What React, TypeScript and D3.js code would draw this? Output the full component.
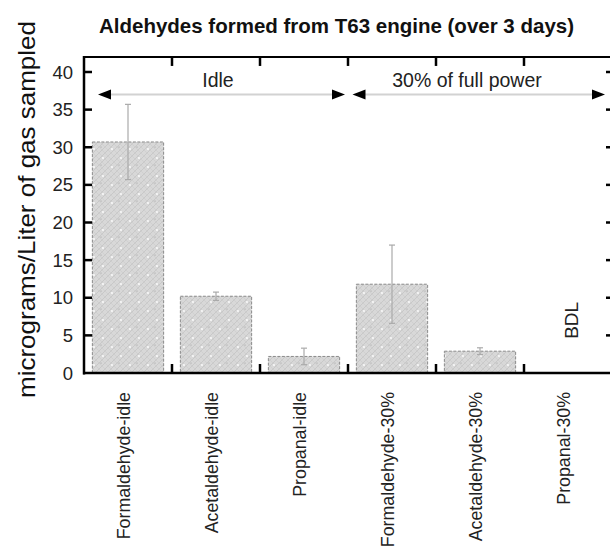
import React from "react";
import * as d3 from "d3";

const categories = [
  "Formaldehyde-idle",
  "Acetaldehyde-idle",
  "Propanal-idle",
  "Formaldehyde-30%",
  "Acetaldehyde-30%",
  "Propanal-30%",
];
const values: (number | null)[] = [30.7, 10.2, 2.2, 11.8, 2.9, null];
const errors: (number | null)[] = [5.0, 0.55, 1.1, 5.2, 0.45, null];
const yTicks = [0, 5, 10, 15, 20, 25, 30, 35, 40];
const groupLabels = ["Idle", "30% of full power"];
const groupStart = [0, 3];
const groupEnd = [2, 5];
const bdlText = "BDL";
const title = "Aldehydes formed from T63 engine (over 3 days)";
const yTitle = "micrograms/Liter of gas sampled";

const W = 610;
const H = 546;
const FONT = "'Liberation Sans', Arial, Helvetica, sans-serif";

export default function App() {
  const x = d3
    .scaleBand<string>()
    .domain(categories)
    .range([84, 612])
    .paddingInner(0.19)
    .paddingOuter(0.095);
  const step = x.step();
  const catLeft = (i: number) => 84 + i * step;
  const y = d3.scaleLinear().domain([0, 40]).range([373, 72]);
  const yTop = y(42);
  const yBot = y(0);
  const xL = 84;
  const xR = 612;

  const boundaries = d3.range(1, categories.length);

  const arrowY = y(37);
  const arrows = [
    { x1: catLeft(groupStart[0]) + 14, x2: catLeft(groupEnd[0] + 1) - 3 },
    { x1: catLeft(groupStart[1]) + 4.5, x2: catLeft(groupEnd[1] + 1) - 7 },
  ];
  const labelX = [218, 467];

  const head = (tipX: number, dir: number) => {
    const L = 13;
    const h = 5;
    return `M${tipX},${arrowY} L${tipX - dir * L},${arrowY - h} L${tipX - dir * L},${arrowY + h} Z`;
  };

  return (
    <svg
      width={W}
      height={H}
      style={{ position: "absolute", left: 0, top: 0, background: "#fff" }}
      fontFamily={FONT}
    >
      <defs>
        <pattern id="hatch" width="6" height="6" patternUnits="userSpaceOnUse">
          <rect width="6" height="6" fill="#d8d8d8" />
          <path d="M0,6 L6,0 M-1,1 L1,-1 M5,7 L7,5" stroke="#c2c2c2" strokeWidth="0.7" />
          <path d="M0,0 L6,6 M-1,5 L1,7 M5,-1 L7,1" stroke="#cbcbcb" strokeWidth="0.6" />
        </pattern>
        <pattern id="dots" width="18" height="18" patternUnits="userSpaceOnUse">
          <rect width="18" height="18" fill="url(#hatch)" />
          <circle cx="4" cy="5" r="0.9" fill="#ffffff" />
          <circle cx="13" cy="14" r="0.9" fill="#ffffff" />
          <circle cx="11" cy="3" r="0.6" fill="#9a9a9a" />
        </pattern>
      </defs>

      {/* title */}
      <text x={336.5} y={33} textAnchor="middle" fontWeight="bold" fontSize={20.5} fill="#111">
        {title}
      </text>

      {/* y title */}
      <text
        transform={`translate(26,${209.5}) rotate(-90)`}
        textAnchor="middle"
        dominantBaseline="central"
        fontSize={24}
        textLength={377}
        lengthAdjust="spacingAndGlyphs"
        fill="#111"
      >
        {yTitle}
      </text>

      {/* bars */}
      {categories.map((c, i) => {
        const v = values[i];
        if (v == null) return null;
        return (
          <rect
            key={c}
            x={x(c)}
            y={y(v)}
            width={x.bandwidth()}
            height={yBot - y(v)}
            fill="url(#dots)"
            stroke="#8a8a8a"
            strokeWidth={1}
            strokeDasharray="3,1.5"
          />
        );
      })}

      {/* error bars */}
      {categories.map((c, i) => {
        const v = values[i];
        const e = errors[i];
        if (v == null || e == null) return null;
        const cx = (x(c) as number) + x.bandwidth() / 2;
        return (
          <g key={"e" + c} stroke="#aaaaaa" strokeWidth={1.2}>
            <line x1={cx} x2={cx} y1={y(v + e)} y2={y(v - e)} />
            <line x1={cx - 3} x2={cx + 3} y1={y(v + e)} y2={y(v + e)} />
            <line x1={cx - 3} x2={cx + 3} y1={y(v - e)} y2={y(v - e)} />
          </g>
        );
      })}

      {/* BDL */}
      <text
        transform={`translate(${(x(categories[5]) as number) + x.bandwidth() / 2 + 3.5},${y(7)}) rotate(-90)`}
        textAnchor="middle"
        dominantBaseline="central"
        fontSize={19}
        fill="#222"
      >
        {bdlText}
      </text>

      {/* group arrows */}
      {arrows.map((a, i) => (
        <g key={"a" + i}>
          <line x1={a.x1 + 8} x2={a.x2 - 8} y1={arrowY} y2={arrowY} stroke="#d2d2d2" strokeWidth={2} />
          <path d={head(a.x1, -1)} fill="#000" />
          <path d={head(a.x2, 1)} fill="#000" />
          <text x={labelX[i]} y={y(38)} textAnchor="middle" fontSize={19.5} fill="#222">
            {groupLabels[i]}
          </text>
        </g>
      ))}

      {/* frame */}
      <line x1={xL} x2={xR} y1={yTop} y2={yTop} stroke="#000" strokeWidth={2} />
      <line x1={xR} x2={xR} y1={yTop} y2={yBot} stroke="#000" strokeWidth={2} />
      <line x1={xL} x2={xL} y1={yTop - 1} y2={yBot + 1.5} stroke="#000" strokeWidth={2.5} />
      <line x1={xL - 1} x2={xR} y1={yBot} y2={yBot} stroke="#000" strokeWidth={2.5} />

      {/* y ticks */}
      {yTicks.map((t) => (
        <g key={"t" + t}>
          {t > 0 && (
            <>
              <line x1={xL} x2={xL + 8} y1={y(t)} y2={y(t)} stroke="#000" strokeWidth={2.5} />
              <line x1={xR - 6} x2={xR} y1={y(t)} y2={y(t)} stroke="#000" strokeWidth={2.5} />
            </>
          )}
          <text
            x={73}
            y={y(t)}
            textAnchor="end"
            dominantBaseline="central"
            fontSize={18.5}
            fill="#222"
          >
            {t}
          </text>
        </g>
      ))}

      {/* category boundary ticks */}
      {boundaries.map((b) => (
        <g key={"b" + b} stroke="#000" strokeWidth={2.5}>
          <line x1={catLeft(b)} x2={catLeft(b)} y1={yBot} y2={yBot - 9} />
          <line x1={catLeft(b)} x2={catLeft(b)} y1={yTop} y2={yTop + 9} />
        </g>
      ))}

      {/* category labels */}
      {categories.map((c) => (
        <text
          key={"l" + c}
          transform={`translate(${(x(c) as number) + x.bandwidth() / 2 - 4},392) rotate(-90)`}
          textAnchor="end"
          dominantBaseline="central"
          fontSize={17.8}
          fill="#222"
        >
          {c}
        </text>
      ))}
    </svg>
  );
}
